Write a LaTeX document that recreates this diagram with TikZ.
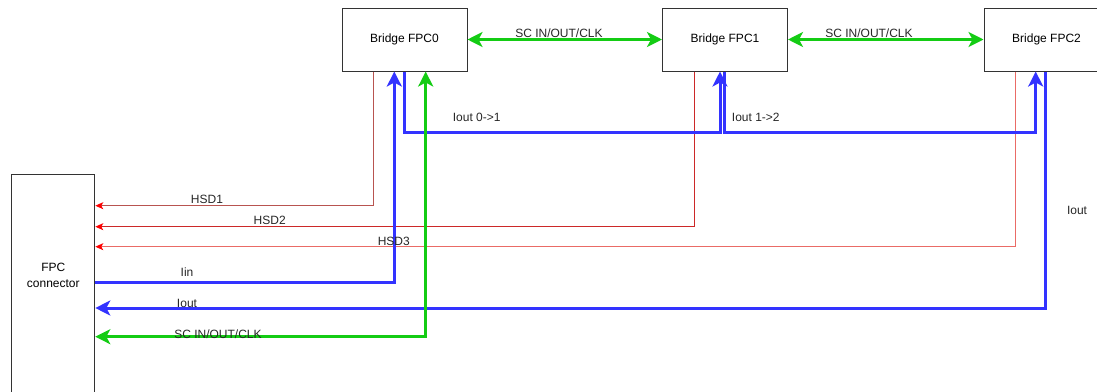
\documentclass[tikz,border=0pt]{standalone}
\usepackage{fontspec}
\setmainfont{Liberation Sans}
\usetikzlibrary{arrows.meta}
\definecolor{bl}{RGB}{51,51,255}
\definecolor{gr}{RGB}{20,204,20}
\definecolor{rA}{RGB}{184,84,80}
\definecolor{rB}{RGB}{204,40,40}
\definecolor{rC}{RGB}{234,107,102}
\begin{document}
\begin{tikzpicture}[x=1pt,y=-1pt,
  font=\fontsize{12}{14}\selectfont,
  box/.style={draw=black!80, line width=1pt, inner sep=0pt, fill=white},
  bigtip/.style={-{Stealth[length=15pt,width=15pt,inset=4pt]}},
  bigtips/.style={{Stealth[length=15pt,width=15pt,inset=4pt]}-{Stealth[length=15pt,width=15pt,inset=4pt]}},
  bus/.style={draw=bl, line width=3pt, bigtip},
  sc/.style={draw=gr, line width=3pt, bigtips},
  hsd/.style={line width=1pt, -{Stealth[length=8pt,width=7pt,inset=2pt,color=red]}},
  lbl/.style={inner sep=0pt, text=black!85}]
\useasboundingbox (0,0) rectangle (1097,391);
% boxes
\node[box, minimum width=125pt, minimum height=63pt] (b0) at (404.5,39.5) {Bridge FPC0};
\node[box, minimum width=125pt, minimum height=63pt] (b1) at (725,39.5) {Bridge FPC1};
\node[box, minimum width=135pt, minimum height=63pt] (b2) at (1051.5,39.5) {\hspace*{-10pt}Bridge FPC2};
\node[box, minimum width=83pt, minimum height=230pt, align=center, font=\fontsize{12}{16}\selectfont] (fpc) at (53.3,289.3) {FPC\\connector\\[12pt]};
% top SC links
\draw[sc] (b0.east) -- (b1.west);
\draw[sc] (b1.east) -- (b2.west);
% HSD lines
\draw[hsd, draw=rA] ([xshift=-30.8pt]b0.south) |- (fpc.east |- 0,205.7);
\draw[hsd, draw=rB] ([xshift=-31pt]b1.south) |- (fpc.east |- 0,226.7);
\draw[hsd, draw=rC] ([xshift=-36.5pt]b2.south) |- (fpc.east |- 0,246.7);
% blue lines
\draw[bus] (fpc.east |- 0,282.7) -| ([xshift=-10.2pt]b0.south);
\draw[bus] ([xshift=-0.5pt]b0.south) -- ++(0,61) -| ([xshift=-5pt]b1.south);
\draw[bus] ([xshift=-0.7pt]b1.south) -- ++(0,61) -| ([xshift=-15.8pt]b2.south);
\draw[bus] ([xshift=-5.8pt]b2.south) |- (fpc.east |- 0,308);
% green bottom
\draw[sc] (fpc.east |- 0,336.7) -| ([xshift=21.2pt]b0.south);
% labels
\node[lbl] (t1) at (559,33) {SC IN/OUT/CLK};
\node[lbl] (t2) at (869,33) {SC IN/OUT/CLK};
\node[lbl] (t3) at (476.7,117) {Iout 0->1};
\node[lbl] (t4) at (755.8,117) {Iout 1->2};
\node[lbl] (t5) at (207,199.3) {HSD1};
\node[lbl] (t6) at (269.7,220.5) {HSD2};
\node[lbl] (t7) at (393.8,241) {HSD3};
\node[lbl] (t8) at (187,272.3) {Iin};
\node[lbl] (t9) at (187,303) {Iout};
\node[lbl] (t10) at (218,334) {SC IN/OUT/CLK};
\node[lbl] (t11) at (1077,210) {Iout};
\end{tikzpicture}
\end{document}
